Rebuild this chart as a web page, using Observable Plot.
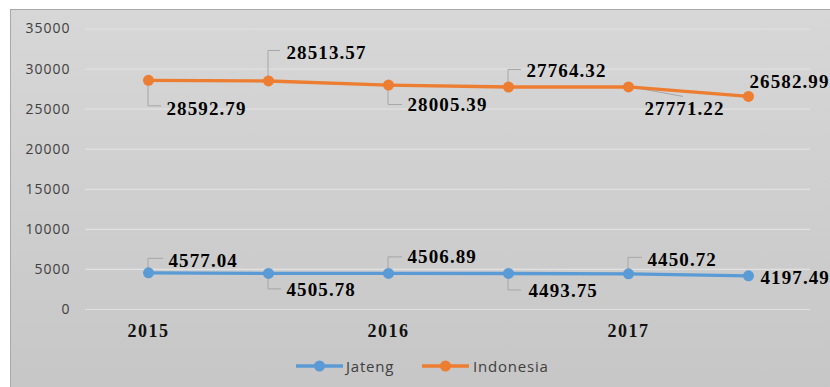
<!DOCTYPE html>
<html>
<head>
<meta charset="utf-8">
<script src="https://cdn.jsdelivr.net/npm/d3@7"></script>
<script src="https://cdn.jsdelivr.net/npm/@observablehq/plot@0.6"></script>
<style>
  html, body { margin: 0; padding: 0; background: #ffffff; overflow: hidden; width: 830px; height: 387px; }
  #frame { position: absolute; left: 10px; top: 9px; width: 830px; height: 390px;
           border-left: 1px solid #a9a9a9; border-top: 1px solid #a9a9a9;
           background: linear-gradient(#d7d7d7, #c6c6c6); }
  #chart { position: absolute; left: 0; top: 0; }
  #chart svg { background: transparent; overflow: visible; }
  #chart g[aria-label^="y-axis"] text { font-family: "Open Sans", sans-serif; font-size: 14px; fill: #404040; letter-spacing: 1px; }
  #chart g[aria-label^="x-axis"] text { font-family: "Liberation Serif", serif; font-size: 18px; font-weight: bold; fill: #111; letter-spacing: 1.5px; }
  #chart g[aria-label="text"] text { letter-spacing: 1.1px; }
  .leg { position: absolute; top: 345px; height: 22px; line-height: 22px;
         font-family: "Open Sans", sans-serif; font-size: 15px; color: #404040; letter-spacing: 0.8px; }
</style>
</head>
<body>
<div id="frame">
  <div id="chart"></div>
  <div id="legend"></div>
</div>
<script>
// ---- data ----
const periods = ["2015 I", "2015 II", "2016 I", "2016 II", "2017 I", "2017 II"];
const yearTicks = ["2015", "", "2016", "", "2017", ""];
const seriesNames = ["Jateng", "Indonesia"];
const jateng = [4577.04, 4505.78, 4506.89, 4493.75, 4450.72, 4197.49];
const indonesia = [28592.79, 28513.57, 28005.39, 27764.32, 27771.22, 26582.99];
const yTicks = [0, 5000, 10000, 15000, 20000, 25000, 30000, 35000];

// ---- styles ----
const colors = ["#5b9bd5", "#ed7d31"];
// label placement relative to each point (pixels)
const labelOffsets = {
  Jateng:    [[20, -12], [18, 17], [19, -16], [20, 17], [19, -14], [12, 2]],
  Indonesia: [[18, 29], [18, -28], [19, 20], [18, -16], [16, 22], [1, -15]]
};
// leader-line vertices relative to each point (pixels)
const leaderPaths = {
  Jateng:    [[[0, -14], [15, -14]], [[0, 16], [13, 16]], [[0, -16], [14, -16]], [[0, 17], [13, 17]], [[0, -16], [14, -16]], null],
  Indonesia: [[[0, 26], [13, 26]], [[0, -30], [12, -30]], [[0, 20], [14, 20]], [[0, -17], [13, -17]], [[55, 10]], null]
};

const seriesValues = { Jateng: jateng, Indonesia: indonesia };
const rows = [];
for (const s of seriesNames) {
  seriesValues[s].forEach((v, i) => rows.push({ period: periods[i], value: v, series: s, i }));
}

const labelMarks = rows.map(r => Plot.text([r], {
  x: "period", y: "value",
  text: d => d.value.toFixed(2),
  dx: labelOffsets[r.series][r.i][0],
  dy: labelOffsets[r.series][r.i][1],
  textAnchor: "start",
  fontFamily: "Liberation Serif, serif",
  fontSize: 19,
  fontWeight: "bold",
  fill: "#000"
}));

const plot = Plot.plot({
  width: 819,
  height: 345,
  marginLeft: 74,
  marginRight: 20,
  marginTop: 18.5,
  marginBottom: 46,
  style: { background: "transparent", overflow: "visible" },
  x: { type: "point", domain: periods, padding: 0.5, label: null, tickSize: 0, tickPadding: 15,
       tickFormat: d => yearTicks[periods.indexOf(d)] },
  y: { domain: [0, 35000], ticks: yTicks, label: null, tickSize: 0, tickPadding: 15, tickFormat: d => String(d) },
  color: { domain: seriesNames, range: colors },
  marks: [
    Plot.ruleY(yTicks, { stroke: "#e1e1e1", strokeWidth: 1.2 }),
    Plot.line(rows, { x: "period", y: "value", z: "series", stroke: "series", strokeWidth: 3.3 }),
    Plot.dot(rows, { x: "period", y: "value", fill: "series", r: 5.5 }),
    ...labelMarks
  ]
});
document.getElementById("chart").appendChild(plot);

// leader lines through the plot's own scales
const xsd = plot.scale("x"), ysd = plot.scale("y");
const xPos = xsd.apply ? (d => xsd.apply(d)) : (() => { const s = d3.scalePoint().domain(xsd.domain).range(xsd.range).padding(xsd.padding ?? 0.5); return d => s(d); })();
const yPos = ysd.apply ? (d => ysd.apply(d)) : (() => { const s = d3.scaleLinear().domain(ysd.domain).range(ysd.range); return d => s(d); })();
const svg = d3.select(plot);
const before = plot.querySelector('g[aria-label="line"]') ? 'g[aria-label="line"]' : null;
const g = before ? svg.insert("g", before) : svg.append("g");
for (const r of rows) {
  const pts = leaderPaths[r.series][r.i];
  if (!pts) continue;
  const px = xPos(r.period), py = yPos(r.value);
  const d = "M" + px + "," + py + pts.map(p => "L" + (px + p[0]) + "," + (py + p[1])).join("");
  g.append("path").attr("d", d).attr("fill", "none").attr("stroke", "#a6a6a6").attr("stroke-width", 1);
}

// legend
const legend = document.getElementById("legend");
const legendPos = [[285, 335], [411, 462]];
seriesNames.forEach((s, k) => {
  const sw = document.createElement("div");
  sw.className = "leg";
  sw.style.left = legendPos[k][0] + "px";
  sw.innerHTML = `<svg width="47" height="22" style="vertical-align:top"><line x1="0" x2="47" y1="11" y2="11" stroke="${colors[k]}" stroke-width="3.3"/><circle cx="23.5" cy="11" r="5.5" fill="${colors[k]}"/></svg>`;
  legend.appendChild(sw);
  const tx = document.createElement("div");
  tx.className = "leg";
  tx.style.left = legendPos[k][1] + "px";
  tx.textContent = s;
  legend.appendChild(tx);
});
</script>
</body>
</html>
